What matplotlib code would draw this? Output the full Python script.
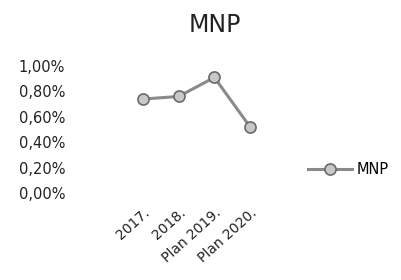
import matplotlib
matplotlib.use("Agg")
import matplotlib.pyplot as plt
from matplotlib.ticker import FuncFormatter

# data
categories = ["2017.", "2018.", "Plan 2019.", "Plan 2020."]
mnp = [0.0074, 0.0076, 0.0091, 0.0052]
yticks = [0.0, 0.002, 0.004, 0.006, 0.008, 0.010]

fig = plt.figure(figsize=(4.02, 2.80), dpi=100)
ax = fig.add_axes([125/402, 87/280, 143/402, 127/280])

x = list(range(len(categories)))
line, = ax.plot(x, mnp, color='#8a8a8a', linewidth=2.2, marker='o', markersize=8,
                markerfacecolor='#c8c8c8', markeredgecolor='#6a6a6a', markeredgewidth=1.2,
                label='MNP')

ax.set_xlim(-0.5, len(categories) - 0.5)
ax.set_ylim(0, 0.01)
ax.set_yticks(yticks)
ax.yaxis.set_major_formatter(FuncFormatter(lambda v, p: ('%.2f%%' % (v*100)).replace('.', ',')))
ax.set_xticks(x)
ax.set_xticklabels(categories, rotation=42, ha='right', rotation_mode='anchor')

for s in ax.spines.values():
    s.set_visible(False)
ax.tick_params(axis='y', length=0, pad=43, labelsize=10.5, labelcolor='#222222')
ax.tick_params(axis='x', length=0, pad=9, labelsize=10, labelcolor='#222222')

fig.text(215/402, 1 - 25/280, 'MNP', ha='center', va='center', fontsize=17, color='#222222')
fig.legend(handles=[line], loc='center left', bbox_to_anchor=(295/402, 1 - 170/280),
           frameon=False, fontsize=10.5, handlelength=3, handletextpad=0.3)

plt.savefig('out.png', dpi=100)
